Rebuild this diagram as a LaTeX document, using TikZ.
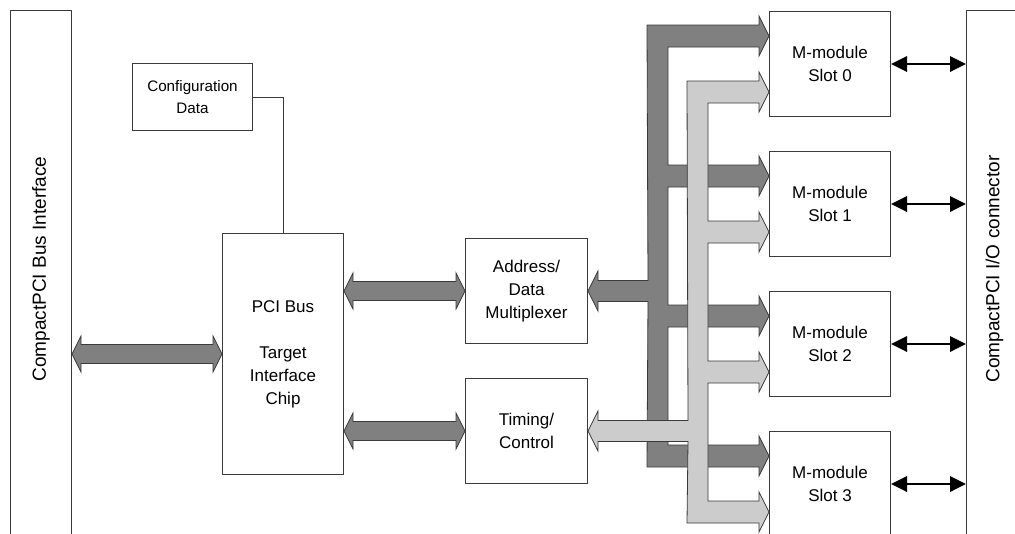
\documentclass[tikz,border=0pt]{standalone}
\usepackage{fontspec}
\setmainfont{Liberation Sans}
\usetikzlibrary{calc,arrows.meta}

\definecolor{busdark}{HTML}{808080}
\definecolor{buslight}{HTML}{CCCCCC}
\definecolor{edge}{HTML}{3A3A3A}

\newcommand{\fatboth}[2]{%
  \draw[fatarrow] (#1) -- ++(9,-18) -- ++(0,8.5) -- ($(#2)+(-9,-9.5)$) -- ++(0,-8.5) -- (#2)
    -- ++(-9,18) -- ++(0,-8.5) -- ($(#1)+(9,9.5)$) -- ++(0,8.5) -- cycle;}

\begin{document}
\begin{tikzpicture}[x=0.75pt, y=-0.75pt,
        box/.style 2 args={rectangle, draw=edge, line width=0.75pt, fill=white, inner sep=0pt, anchor=north west,
            minimum width=#1*0.75pt, minimum height=#2*0.75pt, align=center, font=\fontsize{12.75}{17.25}\selectfont},
        barlabel/.style={rotate=90, inner sep=0pt, font=\fontsize{14.25}{17}\selectfont},
        fatarrow/.style={draw=edge, line width=0.6pt, fill=busdark},
        busline/.style={draw=edge, line width=0.6pt},
        wire/.style={draw=edge, line width=0.75pt},
        iolink/.style={{Triangle[length=12pt,width=11.5pt]}-{Triangle[length=12pt,width=11.5pt]}, line width=1.8pt, black}
    ]
        \useasboundingbox (0,0) rectangle (1015,533);
        \clip (0,0) rectangle (1015,533);

        \node[box={61}{700}] (lbar) at (10,10) {};
        \node[box={56}{700}] (iobar) at (966,10) {};
        \node[barlabel] (lbartext) at (lbar.center |- 0,269) {CompactPCI Bus Interface};
        \node[barlabel] (iobartext) at (iobar.center |- 0,269) {CompactPCI I/O connector};

        \node[box={120}{67}, font=\fontsize{11.4}{16.5}\selectfont] (cfg) at (132,63) {Configuration\\Data};
        \node[box={121}{241}] (pci) at (222,233) {PCI Bus\\[17.25pt]Target\\Interface\\Chip};
        \node[box={122}{105}] (adm) at (465,238) {Address/\\Data\\Multiplexer};
        \node[box={122}{105}] (tim) at (465,378) {Timing/\\Control};
        \foreach \i in {0,...,3}
            \node[box={121}{105}] (s\i) at (769,11+140*\i) {M-module\\Slot \i};

        \draw[wire] (cfg.east) -| (pci.north);

        \fatboth{pci.west -| lbar.east}{pci.west}
        \fatboth{adm.west -| pci.east}{adm.west}
        \fatboth{tim.west -| pci.east}{tim.west}

        \foreach \i in {0,...,3} {
            \coordinate (d\i) at ($(s\i.west)+(0,-28)$);
            \coordinate (l\i) at ($(s\i.west)+(0,28)$);
        }

        \draw[busline, fill=busdark] ($(d0)+(-122,-11)$)
            \foreach \tip in {d0,d1,d2,d3} {
                -- ($(\tip)+(-101,-11)$) -- ($(\tip)+(-10,-11)$) -- ($(\tip)+(-10,-20)$) -- (\tip)
                -- ($(\tip)+(-10,20)$) -- ($(\tip)+(-10,11)$) -- ($(\tip)+(-101,11)$)
            }
            -- ($(d3)+(-122,11)$) -- ($(adm.east)+(60,10.5)$) -- ($(adm.east)+(10,10.5)$) -- ($(adm.east)+(10,20)$)
            -- (adm.east) -- ($(adm.east)+(10,-20)$) -- ($(adm.east)+(10,-10.5)$) -- ($(adm.east)+(60,-10.5)$) -- cycle;

        \draw[busline, fill=buslight] ($(l0)+(-82,-11)$)
            \foreach \tip in {l0,l1,l2,l3} {
                -- ($(\tip)+(-61,-11)$) -- ($(\tip)+(-10,-11)$) -- ($(\tip)+(-10,-20)$) -- (\tip)
                -- ($(\tip)+(-10,20)$) -- ($(\tip)+(-10,11)$) -- ($(\tip)+(-61,11)$)
            }
            -- ($(l3)+(-82,11)$) -- ($(tim.east)+(100,10.5)$) -- ($(tim.east)+(10,10.5)$) -- ($(tim.east)+(10,20)$)
            -- (tim.east) -- ($(tim.east)+(10,-20)$) -- ($(tim.east)+(10,-10.5)$) -- ($(tim.east)+(100,-10.5)$) -- cycle;

        \foreach \i in {0,...,3}
            \draw[iolink] (s\i.east) -- (s\i.east -| iobar.west);
    \end{tikzpicture}
\end{document}
